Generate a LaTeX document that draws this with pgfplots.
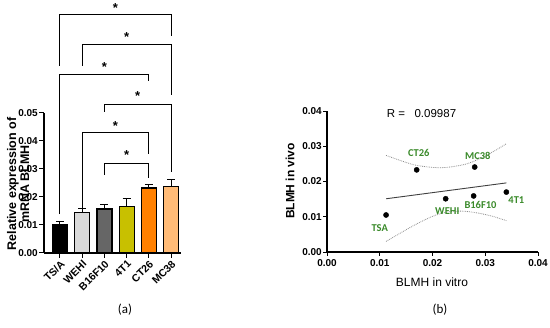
\documentclass[border=0pt]{standalone}
\usepackage{pgfplots}
\pgfplotsset{compat=1.18}
\usepackage{fontspec}
\setmainfont{Liberation Sans}
\newfontfamily\carfont{Carlito}
\definecolor{cOlive}{HTML}{C8C000}
\definecolor{cOrange}{HTML}{FF8000}
\definecolor{cPeach}{HTML}{FFBB77}
\definecolor{cLight}{HTML}{D9D9D9}
\definecolor{cDark}{HTML}{666666}
\definecolor{cGreen}{HTML}{3A8A2A}
\begin{document}
\begin{tikzpicture}[x=1pt,y=1pt]
\path[use as bounding box] (0,0) rectangle (550,328);
% ---------------- (a) ----------------
\begin{axis}[
  at={(60pt,75pt)}, anchor=origin,
  scale only axis, width=137pt, height=140pt,
  xmin=-0.72, xmax=5.45, ymin=0, ymax=0.05,
  axis x line*=bottom, axis y line*=left,
  axis line style={line width=1.2pt},
  ybar, bar width=15pt, bar shift=0pt,
  xtick={0,...,5}, xticklabels={TS/A,WEHI,B16F10,4T1,CT26,MC38},
  xticklabel style={rotate=45, anchor=north east, font=\fontsize{10.5}{11}\selectfont\bfseries, inner sep=1pt},
  ytick={0,0.01,0.02,0.03,0.04,0.05},
  yticklabel style={/pgf/number format/fixed, /pgf/number format/fixed zerofill, /pgf/number format/precision=2, font=\fontsize{10}{11}\selectfont\bfseries, inner sep=1pt},
  /pgf/number format/assume math mode=true,
  scaled y ticks=false,
  tick align=outside, major tick length=5pt,
  tick style={line width=1pt, black},
  clip=false,
  error bars/y dir=plus, error bars/y explicit,
  error bars/error bar style={line width=1pt, black},
  error bars/error mark options={rotate=90, mark size=4pt, line width=1pt},
]
\addplot[fill=black, draw=black, line width=1.2pt] coordinates {(0,0.0102) +- (0,0.0009)};
\addplot[fill=cLight, draw=black, line width=1.2pt] coordinates {(1,0.0146) +- (0,0.0014)};
\addplot[fill=cDark, draw=black, line width=1.2pt] coordinates {(2,0.0157) +- (0,0.0016)};
\addplot[fill=cOlive, draw=black, line width=1.2pt] coordinates {(3,0.0167) +- (0,0.0028)};
\addplot[fill=cOrange, draw=black, line width=1.2pt] coordinates {(4,0.0232) +- (0,0.0012)};
\addplot[fill=cPeach, draw=black, line width=1.2pt] coordinates {(5,0.0238) +- (0,0.0025)};
% brackets
\begin{scope}[line width=1pt]
\draw (axis cs:0,0.0668) -- (axis cs:0,0.0850) -- (axis cs:5,0.0850) -- (axis cs:5,0.0775);
\draw (axis cs:1,0.0668) -- (axis cs:1,0.0743) -- (axis cs:5,0.0743) -- (axis cs:5,0.0564);
\draw (axis cs:0,0.0139) -- (axis cs:0,0.0636) -- (axis cs:4,0.0636) -- (axis cs:4,0.0614);
\draw (axis cs:2,0.0504) -- (axis cs:2,0.0532) -- (axis cs:5,0.0532) -- (axis cs:5,0.0289);
\draw (axis cs:1,0.0161) -- (axis cs:1,0.0429) -- (axis cs:4,0.0429) -- (axis cs:4,0.0354);
\draw (axis cs:2,0.0279) -- (axis cs:2,0.0321) -- (axis cs:4,0.0321) -- (axis cs:4,0.0268);
\end{scope}
\begin{scope}[font=\fontsize{13}{13}\selectfont\bfseries]
\node at (axis cs:2.5,0.0876) {*};
\node at (axis cs:3,0.0772) {*};
\node at (axis cs:2,0.0665) {*};
\node at (axis cs:3.5,0.0562) {*};
\node at (axis cs:2.5,0.0455) {*};
\node at (axis cs:3,0.0350) {*};
\end{scope}
\end{axis}
\node[rotate=90, align=center, inner sep=0pt, font=\fontsize{12.5}{13}\selectfont\bfseries] at (18,144) {Relative expression of\\mRNA BLMH};
\node[font=\carfont\fontsize{13}{13}\selectfont] at (125,18) {(a)};
% ---------------- (b) ----------------
\begin{axis}[
  at={(327pt,76pt)}, anchor=origin,
  scale only axis, width=211pt, height=141pt,
  xmin=0, xmax=0.04, ymin=0, ymax=0.04,
  axis x line*=bottom, axis y line*=left,
  axis line style={line width=1.1pt},
  xtick={0,0.01,0.02,0.03,0.04}, ytick={0,0.01,0.02,0.03,0.04},
  xticklabel style={/pgf/number format/fixed, /pgf/number format/fixed zerofill, /pgf/number format/precision=2, font=\fontsize{10}{11}\selectfont\bfseries},
  yticklabel style={/pgf/number format/fixed, /pgf/number format/fixed zerofill, /pgf/number format/precision=2, font=\fontsize{10}{11}\selectfont\bfseries, inner sep=1pt},
  /pgf/number format/assume math mode=true,
  scaled ticks=false,
  tick align=outside, major tick length=4pt,
  tick style={line width=0.9pt, black},
  clip=false,
]
\addplot[only marks, mark=*, mark size=2.6pt, black] coordinates {
(0.0112,0.0105) (0.0170,0.0233) (0.0225,0.0151) (0.0278,0.0159) (0.0280,0.0241) (0.0340,0.0170)};
\addplot[no marks, line width=0.9pt, black!75] coordinates {(0.0112,0.0151) (0.0340,0.0196)};
\addplot[no marks, smooth, densely dotted, line width=0.8pt, black!45] coordinates {
(0.0112,0.0274) (0.0163,0.0248) (0.0200,0.0240) (0.0227,0.0240) (0.0260,0.0248) (0.0284,0.0261) (0.0312,0.0282) (0.0340,0.0307)};
\addplot[no marks, smooth, densely dotted, line width=0.8pt, black!45] coordinates {
(0.0112,0.0030) (0.0163,0.0074) (0.0200,0.0101) (0.0227,0.0113) (0.0255,0.0116) (0.0284,0.0111) (0.0312,0.0102) (0.0340,0.0089)};
\begin{scope}[font=\carfont\fontsize{10.5}{11}\selectfont\bfseries, text=cGreen]
\node at (axis cs:0.0100,0.0068) {TSA};
\node at (axis cs:0.0174,0.0281) {CT26};
\node at (axis cs:0.0286,0.0273) {MC38};
\node at (axis cs:0.0228,0.0117) {WEHI};
\node at (axis cs:0.0291,0.0134) {B16F10};
\node at (axis cs:0.0359,0.0147) {4T1};
\end{scope}
\node[font=\fontsize{11.5}{12}\selectfont, anchor=west, inner sep=0pt] at (axis cs:0.0113,0.0393) {R =\ \ \ 0.09987};
\end{axis}
\node[rotate=90, font=\fontsize{12}{12}\selectfont\bfseries] at (290,147) {BLMH in vivo};
\node[font=\fontsize{12}{12}\selectfont] at (432,46) {BLMH in vitro};
\node[font=\carfont\fontsize{13}{13}\selectfont] at (440,18) {(b)};
\end{tikzpicture}
\end{document}
